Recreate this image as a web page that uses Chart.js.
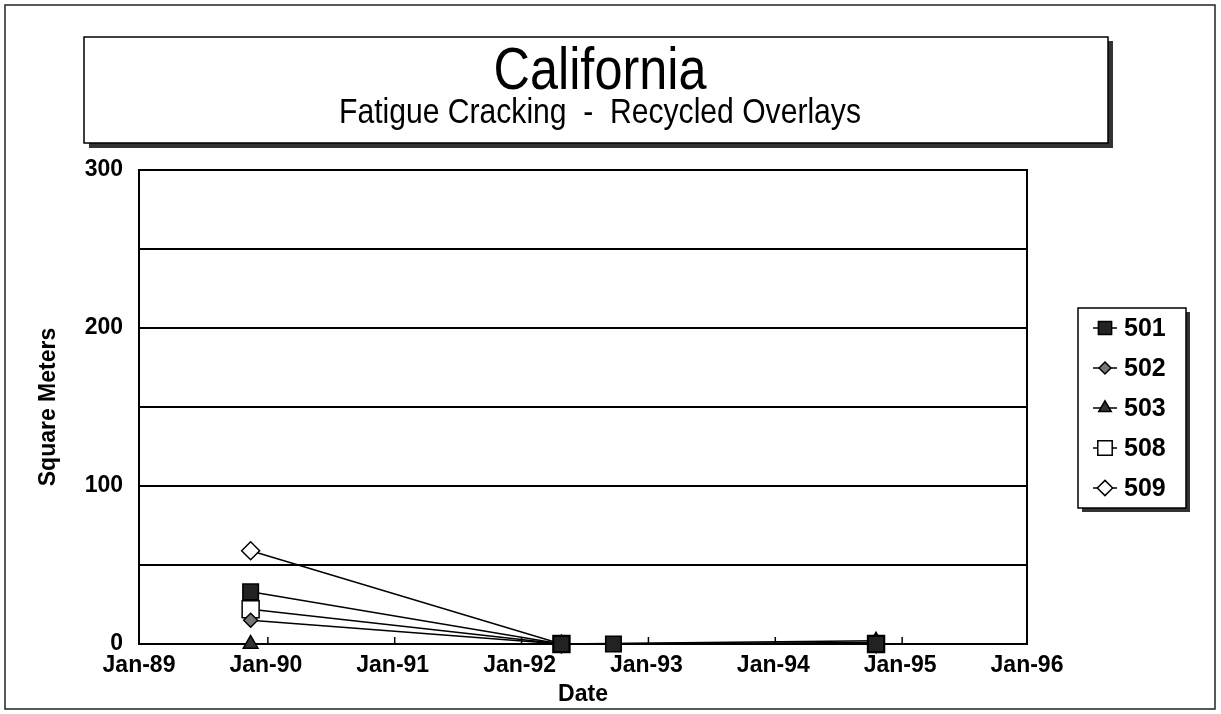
<!DOCTYPE html>
<html>
<head>
<meta charset="utf-8">
<script src="https://cdn.jsdelivr.net/npm/chart.js@4.4.0/dist/chart.umd.min.js"></script>
<style>
  html, body { margin: 0; padding: 0; background: #fff; overflow: hidden; }
  #wrap { position: relative; width: 1221px; height: 714px; }
</style>
</head>
<body>
<div id="wrap"><canvas id="crackChart" width="1221" height="714"></canvas></div>
<script>
// chart text
const chartTitle = 'California';
const chartSubtitle = 'Fatigue Cracking  -  Recycled Overlays';
const yAxisTitle = 'Square Meters';
const xAxisTitle = 'Date';

// survey dates as decimal years
const dates501 = [1989.88, 1992.33, 1992.74, 1994.81];
const datesOther = [1989.88, 1992.33, 1994.81];

// fatigue cracking, square meters
const values501 = [33, 0, 0, 0];
const values502 = [15, 0, 1];
const values503 = [0, 0, 2];
const values508 = [22, 0, 0];
const values509 = [59, 0, 0];

const seriesNames = ['501', '502', '503', '508', '509'];
const xTickYears = [1989, 1990, 1991, 1992, 1993, 1994, 1995, 1996];
const yTickLabels = [0, 100, 200, 300];

const FONT = "'Liberation Sans', Arial, sans-serif";

function toPoints(dates, values) {
    return dates.map((d, i) => ({ x: d, y: values[i] }));
}

function makeSeries(name, dates, values, style) {
    return Object.assign({
        label: name,
        data: toPoints(dates, values),
        borderColor: '#000',
        borderWidth: 1.5,
        pointBorderColor: '#000',
        pointBorderWidth: 1.5,
        tension: 0,
        fill: false,
        clip: false
    }, style);
}

const datasets = [
    makeSeries(seriesNames[0], dates501, values501, { pointStyle: 'rect', pointRadius: 11, pointBackgroundColor: '#222' }),
    makeSeries(seriesNames[1], datesOther, values502, { pointStyle: 'rectRot', pointRadius: 7, pointBackgroundColor: '#777' }),
    makeSeries(seriesNames[2], datesOther, values503, { pointStyle: 'triangle', pointRadius: 8.5, pointBackgroundColor: '#333' }),
    makeSeries(seriesNames[3], datesOther, values508, { pointStyle: 'rect', pointRadius: 12, pointBackgroundColor: '#fff' }),
    makeSeries(seriesNames[4], datesOther, values509, { pointStyle: 'rectRot', pointRadius: 9, pointBackgroundColor: '#fff' })
];

function drawMarker(ctx, style, x, y, r, fill) {
    ctx.beginPath();
    if (style === 'rect') {
        const s = r * Math.SQRT1_2;
        ctx.rect(x - s, y - s, 2 * s, 2 * s);
    } else if (style === 'rectRot') {
        ctx.moveTo(x, y - r);
        ctx.lineTo(x + r, y);
        ctx.lineTo(x, y + r);
        ctx.lineTo(x - r, y);
        ctx.closePath();
    } else if (style === 'triangle') {
        const h = r * 1.5;
        const half = r * Math.sqrt(3) / 2;
        ctx.moveTo(x, y - r);
        ctx.lineTo(x + half, y + h - r);
        ctx.lineTo(x - half, y + h - r);
        ctx.closePath();
    }
    ctx.fillStyle = fill;
    ctx.fill();
    ctx.lineWidth = 1.5;
    ctx.strokeStyle = '#000';
    ctx.stroke();
}

// page frame, title box and its text
const framePlugin = {
    id: 'frame',
    beforeDraw(chart) {
        const ctx = chart.ctx;
        ctx.save();
        ctx.fillStyle = '#fff';
        ctx.fillRect(0, 0, chart.width, chart.height);

        ctx.strokeStyle = '#222';
        ctx.lineWidth = 1.5;
        ctx.strokeRect(5, 5, 1210, 704);

        // title box with shadow
        ctx.fillStyle = '#333';
        ctx.fillRect(89, 143, 1024, 5);
        ctx.fillRect(1108, 41, 5, 107);
        ctx.fillStyle = '#fff';
        ctx.fillRect(84, 37, 1024, 106);
        ctx.strokeStyle = '#000';
        ctx.strokeRect(84, 37, 1024, 106);

        ctx.fillStyle = '#000';
        ctx.textAlign = 'center';
        ctx.textBaseline = 'alphabetic';
        ctx.save();
        ctx.translate(600, 89);
        ctx.scale(0.84, 1);
        ctx.font = '60px ' + FONT;
        ctx.fillText(chartTitle, 0, 0);
        ctx.restore();
        ctx.save();
        ctx.translate(600, 123);
        ctx.scale(0.86, 1);
        ctx.font = '35px ' + FONT;
        ctx.fillText(chartSubtitle, 0, 0);
        ctx.restore();
        ctx.restore();
    },
    beforeDatasetsDraw(chart) {
        const { ctx, chartArea, scales } = chart;
        ctx.save();
        ctx.strokeStyle = '#000';
        ctx.lineWidth = 2;
        ctx.strokeRect(chartArea.left, chartArea.top, chartArea.right - chartArea.left, chartArea.bottom - chartArea.top);
        // small inward year ticks on the date axis
        ctx.lineWidth = 1.5;
        xTickYears.slice(1, -1).forEach(yr => {
            const px = scales.x.getPixelForValue(yr) + 2;
            ctx.beginPath();
            ctx.moveTo(px, chartArea.bottom);
            ctx.lineTo(px, chartArea.bottom - 7);
            ctx.stroke();
        });
        ctx.restore();
    }
};

// boxed legend on the right
const boxLegendPlugin = {
    id: 'boxLegend',
    afterDraw(chart) {
        const ctx = chart.ctx;
        const left = 1078, top = 308, w = 108, h = 200;
        ctx.save();
        ctx.fillStyle = '#333';
        ctx.fillRect(left + w, top + 4, 4, h);
        ctx.fillRect(left + 4, top + h, w, 4);
        ctx.fillStyle = '#fff';
        ctx.fillRect(left, top, w, h);
        ctx.strokeStyle = '#000';
        ctx.lineWidth = 1.5;
        ctx.strokeRect(left, top, w, h);

        chart.data.datasets.forEach((ds, i) => {
            const cy = top + 20 + i * 40;
            const cx = left + 27;
            ctx.strokeStyle = '#000';
            ctx.lineWidth = 1.5;
            ctx.beginPath();
            ctx.moveTo(cx - 12, cy);
            ctx.lineTo(cx + 12, cy);
            ctx.stroke();
            drawMarker(ctx, ds.pointStyle, cx, cy, ds.pointRadius * 0.85, ds.pointBackgroundColor);
            ctx.fillStyle = '#000';
            ctx.font = 'bold 25px ' + FONT;
            ctx.textAlign = 'left';
            ctx.textBaseline = 'middle';
            ctx.fillText(ds.label, left + 46, cy + 1);
        });
        ctx.restore();
    }
};

new Chart(document.getElementById('crackChart'), {
    type: 'line',
    data: { datasets: datasets },
    options: {
        responsive: false,
        animation: false,
        devicePixelRatio: 1,
        layout: { padding: { top: 170, right: 194, left: 0, bottom: 0 } },
        plugins: {
            legend: { display: false },
            title: { display: false },
            tooltip: { enabled: false }
        },
        scales: {
            x: {
                type: 'linear',
                min: xTickYears[0],
                max: xTickYears[xTickYears.length - 1],
                afterBuildTicks: scale => { scale.ticks = xTickYears.map(v => ({ value: v })); },
                afterFit: scale => { scale.height = 70; },
                grid: { display: false, drawTicks: false },
                border: { display: true, color: '#000', width: 2 },
                ticks: {
                    autoSkip: false,
                    maxRotation: 0,
                    padding: 8,
                    color: '#000',
                    font: { family: FONT, size: 23, weight: 'bold' },
                    callback: v => 'Jan-' + String(v).slice(2)
                },
                title: {
                    display: true,
                    text: xAxisTitle,
                    color: '#000',
                    font: { family: FONT, size: 23, weight: 'bold' },
                    padding: { top: 0, bottom: 6 }
                }
            },
            y: {
                min: 0,
                max: 300,
                ticks: {
                    stepSize: 50,
                    padding: 16,
                    color: '#000',
                    font: { family: FONT, size: 23, weight: 'bold' },
                    callback: v => yTickLabels.includes(v) ? String(v) : ''
                },
                afterFit: scale => { scale.width = 139; },
                grid: { color: '#000', lineWidth: 2, drawTicks: false },
                border: { display: true, color: '#000', width: 2 },
                title: {
                    display: true,
                    text: yAxisTitle,
                    color: '#000',
                    font: { family: FONT, size: 23, weight: 'bold' },
                    padding: { top: 35, bottom: 0 }
                }
            }
        }
    },
    plugins: [framePlugin, boxLegendPlugin]
});
</script>
</body>
</html>
